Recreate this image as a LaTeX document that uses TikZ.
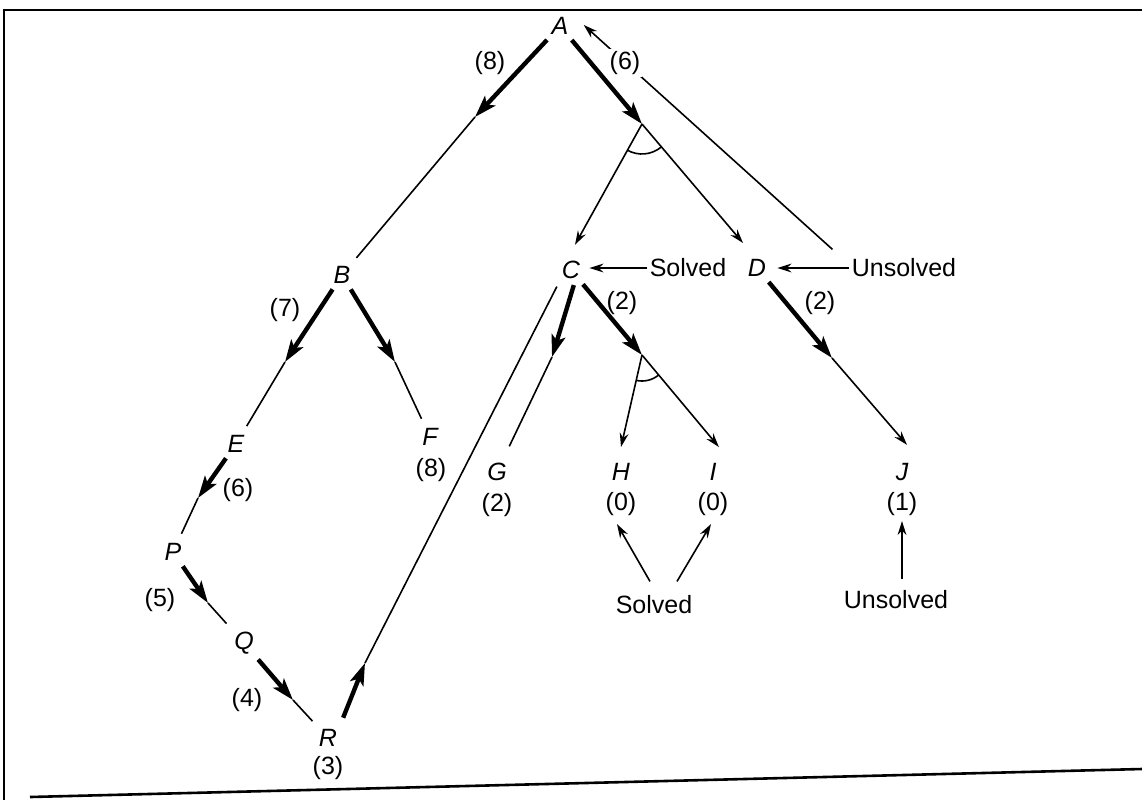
\documentclass[tikz,border=0pt]{standalone}
\usepackage{fontspec}
\setmainfont{Liberation Sans}
\usetikzlibrary{arrows.meta}
\tikzset{
  lab/.style={font=\fontsize{12.5}{14}\selectfont, inner sep=1pt},
  lett/.style={font=\fontsize{12.5}{14}\selectfont\itshape, inner sep=1pt},
  lightline/.style={line width=0.8pt, shorten >=4pt},
  lightarr/.style={line width=0.8pt, -{Stealth[length=7pt,width=4.4pt]}},
  heavyarr/.style={line width=2.2pt, shorten <=2pt, -{Stealth[length=11pt,width=7pt,inset=2.5pt]}},
  andarc/.style={line width=0.8pt},
  frameline/.style={line width=1.3pt},
}
\begin{document}
\begin{tikzpicture}[x=0.5pt,y=-0.5pt]
\useasboundingbox (0,0) rectangle (1142,800);
\fill[white] (0,0) rectangle (1142,800);
% frame of the scanned page
\draw[frameline] (1142,10) -- (4,10) -- (4,800);
\draw[frameline] (30,797) -- (1142,769);

% nodes
\node[lett] (A) at (560,26) {A};
\node[lett] (B) at (342,275) {B};
\node[lett] (C) at (571,270) {C};
\node[lett] (D) at (757,268) {D};
\node[lett] (E) at (236,444) {E};
\node[lett] (F) at (430,437) {F};
\node[lett] (G) at (497,472) {G};
\node[lett] (H) at (621,472) {H};
\node[lett] (I) at (713,472) {I};
\node[lett] (J) at (902,472) {J};
\node[lett] (P) at (173,552) {P};
\node[lett] (Q) at (244,643) {Q};
\node[lett] (R) at (328,738) {R};

% cost labels
\node[lab] (cB) at (490,63) {(8)};
\node[lab] (cBE) at (285,310) {(7)};
\node[lab] (cF) at (431,470) {(8)};
\node[lab] (cE) at (238,490) {(6)};
\node[lab] (cP) at (160,600) {(5)};
\node[lab] (cQ) at (247,700) {(4)};
\node[lab] (cR) at (328,768) {(3)};
\node[lab] (cG) at (497,505) {(2)};
\node[lab] (cH) at (621,504) {(0)};
\node[lab] (cI) at (713,504) {(0)};
\node[lab] (cJ) at (902,504) {(1)};
\node[lab] (cC) at (622,303) {(2)};
\node[lab] (cD) at (820,303) {(2)};
\node[lab] (S1) at (688,268) {Solved};
\node[lab] (U1) at (904,268) {Unsolved};
\node[lab] (S2) at (654,605) {Solved};
\node[lab] (U2) at (896,600) {Unsolved};

% half-way points and AND junctions
\coordinate (mAB) at (475,117);
\coordinate (jA) at (642,124);
\coordinate (mBE) at (285,362);
\coordinate (mBF) at (395,362);
\coordinate (mEP) at (198,498);
\coordinate (mPQ) at (208,603);
\coordinate (mQR) at (293,700);
\coordinate (mRC) at (365,663);
\coordinate (mCG) at (552,357);
\coordinate (jC) at (642,355);
\coordinate (mDJ) at (832,358);

% A
\draw[heavyarr] (A) -- (mAB);
\draw[lightline] (mAB) -- (B);
\draw[heavyarr] (A) -- (jA);
\draw[lightarr] (jA) -- ([xshift=2pt,yshift=7pt]C.north);
\draw[lightarr] (jA) -- ([xshift=-7pt,yshift=7pt]D.north);
\draw[andarc] ([shift={(240.5:15pt)}]jA) arc[start angle=240.5, end angle=310.3, radius=15pt];

% B
\draw[heavyarr] (B) -- (mBE);
\draw[lightline] (mBE) -- (E);
\draw[heavyarr] (B) -- (mBF);
\draw[lightline] (mBF) -- (F);

% E, P, Q, R
\draw[heavyarr] (E) -- (mEP);
\draw[lightline] (mEP) -- (P);
\draw[heavyarr] (P) -- (mPQ);
\draw[lightline] (mPQ) -- (Q);
\draw[heavyarr] (Q) -- (mQR);
\draw[lightline] (mQR) -- (R);
\draw[heavyarr, shorten <=5pt] (R.north east) -- (mRC);
\draw[lightline, shorten >=3pt] (mRC) -- (C.south west);

% C
\draw[heavyarr] ([xshift=2pt]C.south) -- (mCG);
\draw[lightline, shorten >=8pt] (mCG) -- (G);
\draw[heavyarr] (C) -- (jC);
\draw[lightarr] (jC) -- ([yshift=7pt]H.north);
\draw[lightarr] (jC) -- ([yshift=7pt]I.north east);
\draw[andarc] ([shift={(257:13pt)}]jC) arc[start angle=257, end angle=309.6, radius=13pt];

% D
\draw[heavyarr] (D) -- (mDJ);
\draw[lightarr] (mDJ) -- ([xshift=2.5pt,yshift=8pt]J.north);

% status arrows
\draw[lightarr, shorten >=3.5pt] (S1.west) -- (S1.west -| C.east);
\draw[lightarr, shorten >=4.5pt] (U1.west) -- (U1.west -| D.east);
\draw[lightarr] ([xshift=-8.5pt,yshift=3.5pt]U1.north west) -- ([xshift=6.5pt,yshift=0.5pt]A.east);
\node[lab, fill=white] (cA) at (625,63) {(6)};
\draw[lightarr] ([xshift=-2pt,yshift=6pt]S2.north) -- ([xshift=-2pt,yshift=-3pt]cH.south);
\draw[lightarr] ([xshift=11.5pt,yshift=6pt]S2.north) -- ([xshift=-1pt,yshift=-3pt]cI.south);
\draw[lightarr] ([xshift=3pt,yshift=4.5pt]U2.north) -- ([yshift=-1.5pt]cJ.south);
\end{tikzpicture}
\end{document}
